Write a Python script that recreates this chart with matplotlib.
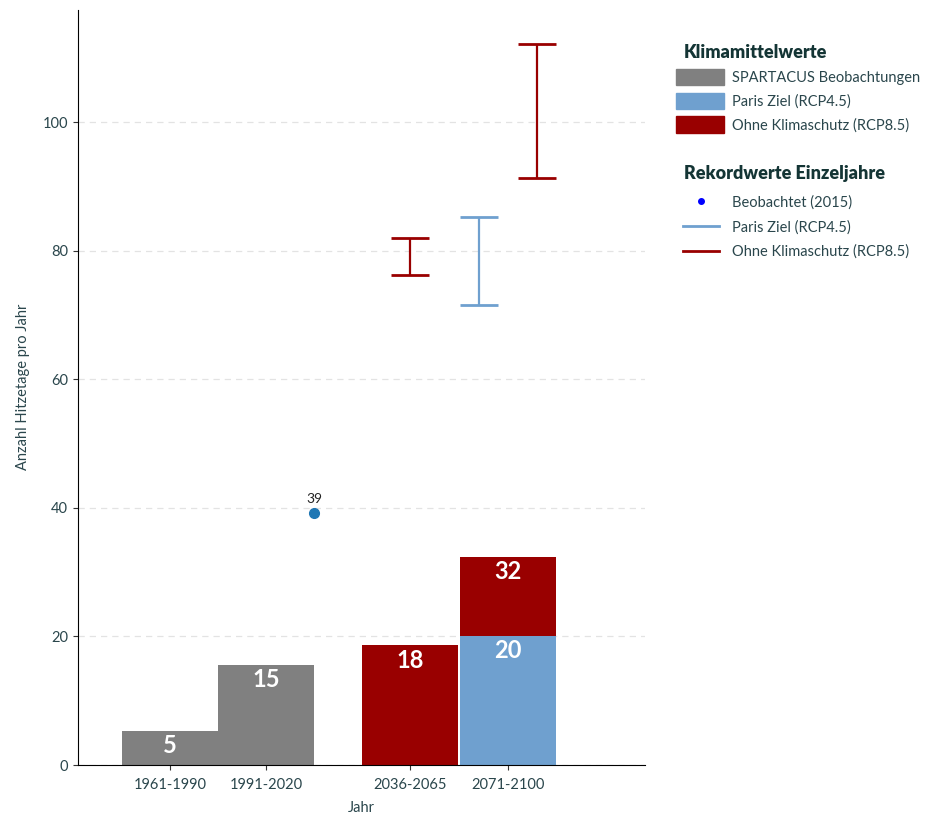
import numpy as np
import matplotlib
matplotlib.use("Agg")
import matplotlib.pyplot as plt
from matplotlib.patches import Patch
from matplotlib.lines import Line2D

plt.rcParams['font.family'] = ['Lato', 'DejaVu Sans']

# data
periods = ['1961-1990', '1991-2020', '2036-2065', '2071-2100']
positions = [0, 1, 2.5, 3.52]

obs_mean = [5.3, 15.6]          # SPARTACUS
rcp85_mean_2036 = 18.6
rcp45_mean_2071 = 20.1
rcp85_mean_2071 = 32.4
obs_labels = ['5', '15']
fut_labels = ['18', '20', '32']

record_obs_x = 1.5
record_obs = 39.2

# record ranges (low, high)
rec_rcp85_2036 = (76.2, 82.0)
rec_rcp45_2071 = (71.5, 85.2)
rec_rcp85_2071 = (91.3, 112.1)

gray = '#808080'
blue = '#6fa0cf'
red = '#990000'
txt = '#2a464c'
title_col = '#143535'

fig = plt.figure(figsize=(9.38, 8.15), dpi=100)
ax = fig.add_axes([0.083, 0.0613, 0.605, 0.927])

w = 1.0
ax.bar(positions[:2], obs_mean, width=w, color=gray)
ax.bar(positions[2], rcp85_mean_2036, width=w, color=red)
ax.bar(positions[3], rcp45_mean_2071, width=w, color=blue)
ax.bar(positions[3], rcp85_mean_2071 - rcp45_mean_2071, bottom=rcp45_mean_2071, width=w, color=red)

# labels inside bars
lab_kw = dict(ha='center', va='top', color='white', fontsize=17, fontweight='bold')
for p, v, l in zip(positions[:2], obs_mean, obs_labels):
    ax.text(p, v - 0.5, l, **lab_kw)
ax.text(positions[2], rcp85_mean_2036 - 0.5, fut_labels[0], **lab_kw)
ax.text(positions[3], rcp45_mean_2071 - 0.5, fut_labels[1], **lab_kw)
ax.text(positions[3], rcp85_mean_2071 - 0.5, fut_labels[2], **lab_kw)

# record point
ax.plot(record_obs_x, record_obs, 'o', color='#1f77b4', markersize=7)
ax.text(record_obs_x, record_obs + 1.3, str(round(record_obs)), ha='center', va='bottom',
        fontsize=10, color='#222222')

# record ranges
def rng(x, lohi, c):
    lo, hi = lohi
    mid = (lo + hi) / 2
    ax.errorbar(x, mid, yerr=[[mid - lo], [hi - mid]], fmt='none',
                ecolor=c, elinewidth=1.6, capsize=14, capthick=2)

rng(positions[2], rec_rcp85_2036, red)
rng(positions[3] - 0.3, rec_rcp45_2071, blue)
rng(positions[3] + 0.3, rec_rcp85_2071, red)

ax.set_xlim(-0.96, 4.95)
ax.set_ylim(0, 117.5)
ax.set_xticks(positions)
ax.set_xticklabels(periods)
ax.set_yticks([0, 20, 40, 60, 80, 100])
ax.yaxis.grid(True, linestyle=(0, (5, 4)), color='#e3e3e3', linewidth=0.9)
ax.set_axisbelow(True)
for s in ['top', 'right']:
    ax.spines[s].set_visible(False)
ax.tick_params(colors=txt, labelsize=10.5)
ax.tick_params(axis='both', color='#333333')
ax.tick_params(axis='x', pad=6)
ax.set_xlabel('Jahr', color=txt, fontsize=10.5, labelpad=6)
ax.set_ylabel('Anzahl Hitzetage pro Jahr', color=txt, fontsize=10.5, labelpad=9)

# legends
fig.text(0.729, 1 - 53 / 815, 'Klimamittelwerte', fontsize=13, fontweight='heavy',
         color=title_col, va='center', ha='left')
fig.text(0.729, 1 - 173 / 815, 'Rekordwerte Einzeljahre', fontsize=13, fontweight='heavy',
         color=title_col, va='center', ha='left')

h1 = [Patch(color=gray), Patch(color=blue), Patch(color=red)]
l1 = ['SPARTACUS Beobachtungen', 'Paris Ziel (RCP4.5)', 'Ohne Klimaschutz (RCP8.5)']
fig.legend(h1, l1, loc='upper left', bbox_to_anchor=(0.7068, 1 - 56 / 815),
           frameon=False, fontsize=10.5, handlelength=3.3, handleheight=1.35,
           handletextpad=0.55, labelspacing=0.5, labelcolor=txt)

h2 = [Line2D([], [], marker='o', color='blue', linestyle='none', markersize=4),
      Line2D([], [], color=blue, linewidth=2),
      Line2D([], [], color=red, linewidth=2)]
l2 = ['Beobachtet (2015)', 'Paris Ziel (RCP4.5)', 'Ohne Klimaschutz (RCP8.5)']
fig.legend(h2, l2, loc='upper left', bbox_to_anchor=(0.714, 1 - 182 / 815),
           frameon=False, fontsize=10.5, handlelength=2.5, handletextpad=0.9,
           labelspacing=0.72, labelcolor=txt)

fig.savefig('out.png', dpi=100)
